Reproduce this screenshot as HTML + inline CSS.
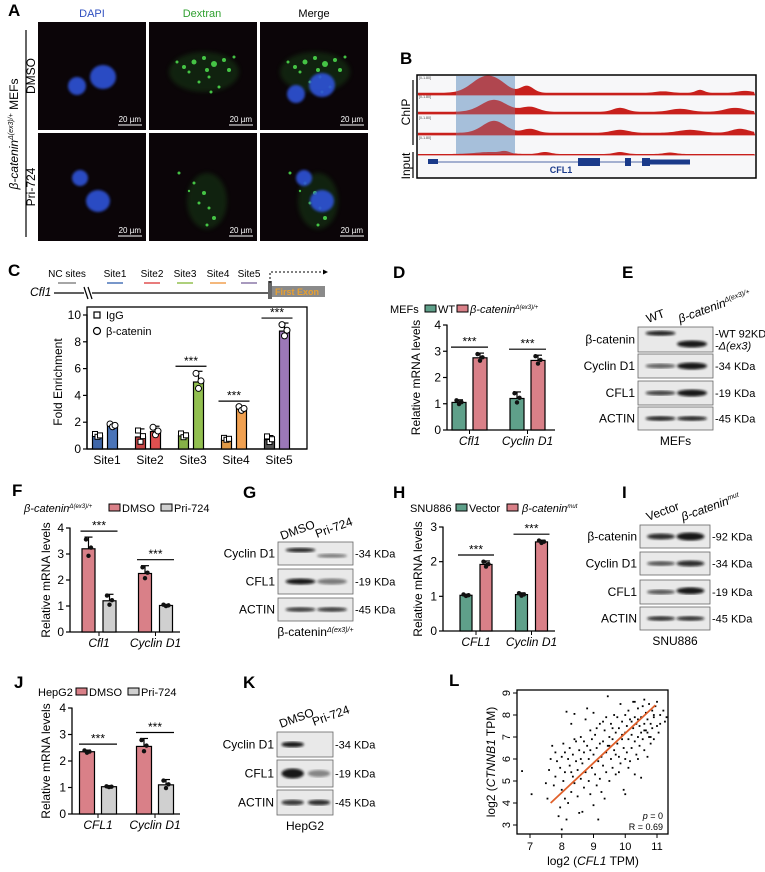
<!DOCTYPE html>
<html><head><meta charset="utf-8"><style>
html,body{margin:0;padding:0;background:#fff;}
svg{display:block;font-family:"Liberation Sans",Arial,sans-serif;}
</style></head><body>
<svg id="fig" width="765" height="872" viewBox="0 0 765 872" xmlns="http://www.w3.org/2000/svg">
<defs>
<filter id="blur1"><feGaussianBlur stdDeviation="1.2"/></filter>
<filter id="blur2"><feGaussianBlur stdDeviation="2.2"/></filter>
</defs>
<!-- Panel letters -->
<g font-weight="bold" font-size="17" fill="#000">
<text x="8" y="16">A</text><text x="400" y="64">B</text><text x="8" y="276">C</text>
<text x="393" y="278">D</text><text x="622" y="278">E</text><text x="12" y="496">F</text>
<text x="243" y="498">G</text><text x="393" y="498">H</text><text x="622" y="498">I</text>
<text x="14" y="688">J</text><text x="243" y="688">K</text><text x="449" y="686">L</text>
</g>

<!-- Panel A -->
<g id="panelA">
<text x="92" y="17" font-size="11" fill="#3050c0" text-anchor="middle">DAPI</text>
<text x="202" y="17" font-size="11" fill="#30a030" text-anchor="middle">Dextran</text>
<text x="314" y="17" font-size="11" fill="#000" text-anchor="middle">Merge</text>
<line x1="26" y1="30" x2="26" y2="237" stroke="#000" stroke-width="1.2"/>
<text transform="translate(18,134) rotate(-90)" font-size="12" text-anchor="middle"><tspan font-style="italic">β-catenin</tspan><tspan font-size="7" dy="-5" font-style="italic">Δ(ex3)/+</tspan><tspan dy="5"> MEFs</tspan></text>
<text transform="translate(35,76) rotate(-90)" font-size="12" text-anchor="middle">DMSO</text>
<text transform="translate(35,187) rotate(-90)" font-size="12" text-anchor="middle">Pri-724</text>
</g>

<!-- Panel B -->
<g id="panelB">
<rect x="417" y="75" width="339" height="103" fill="#f7f7f9" stroke="#000" stroke-width="1.5"/>
<rect x="456" y="76" width="59" height="78" fill="#b9cde3"/>
<line x1="413" y1="80" x2="413" y2="145" stroke="#000" stroke-width="1.2"/>
<line x1="413" y1="152" x2="413" y2="178" stroke="#000" stroke-width="1.2"/>
<text transform="translate(410,112) rotate(-90)" font-size="12" text-anchor="middle">ChIP</text>
<text transform="translate(410,166) rotate(-90)" font-size="12" text-anchor="middle">Input</text>
<text x="561" y="173" font-size="9" font-weight="bold" fill="#1a3a8a" text-anchor="middle">CFL1</text>
</g>

<!-- Panel C diagram -->
<g id="panelC-diagram">
<text x="30" y="296" font-size="12" font-style="italic">Cfl1</text>
<line x1="54" y1="293" x2="84" y2="293" stroke="#000" stroke-width="1.3"/>
<line x1="84" y1="287" x2="88" y2="299" stroke="#000" stroke-width="1.2"/>
<line x1="88" y1="287" x2="92" y2="299" stroke="#000" stroke-width="1.2"/>
<line x1="92" y1="293" x2="268" y2="293" stroke="#000" stroke-width="1.3"/>
<rect x="268" y="286" width="57" height="11" fill="#8a8a8a"/>
<rect x="268" y="281" width="4" height="18" fill="#666"/>
<text x="297" y="295" font-size="9" font-weight="bold" fill="#e8a030" text-anchor="middle">First Exon</text>
<polyline points="270,283 270,272 325,272" fill="none" stroke="#000" stroke-dasharray="2,2"/>
<polygon points="328,272 323,269.5 323,274.5" fill="#000"/>
<g font-size="10" text-anchor="middle">
<text x="67" y="277">NC sites</text><line x1="58" y1="283" x2="76" y2="283" stroke="#888" stroke-width="1.5"/>
<text x="115" y="277">Site1</text><line x1="107" y1="283" x2="123" y2="283" stroke="#4a74b8" stroke-width="1.5"/>
<text x="152" y="277">Site2</text><line x1="144" y1="283" x2="160" y2="283" stroke="#e05050" stroke-width="1.5"/>
<text x="185" y="277">Site3</text><line x1="177" y1="283" x2="193" y2="283" stroke="#92c050" stroke-width="1.5"/>
<text x="218" y="277">Site4</text><line x1="210" y1="283" x2="226" y2="283" stroke="#f0a050" stroke-width="1.5"/>
<text x="249" y="277">Site5</text><line x1="241" y1="283" x2="257" y2="283" stroke="#8a78a8" stroke-width="1.5"/>
</g>
</g>

<!-- Legends / titles -->
<g font-size="11">
<rect x="94" y="312" width="6" height="6" fill="none" stroke="#000" stroke-width="1.2"/><text x="106" y="319" font-size="11">IgG</text>
<circle cx="97" cy="331" r="3.5" fill="none" stroke="#000" stroke-width="1.2"/><text x="106" y="335" font-size="11">β-catenin</text>
<text x="390" y="313">MEFs</text>
<rect x="425" y="305" width="11" height="7" fill="#5fa08a" stroke="#000"/><text x="438" y="313">WT</text>
<rect x="457" y="305" width="11" height="7" fill="#d98088" stroke="#000"/><text x="470" y="313" font-style="italic">β-catenin<tspan font-size="6" dy="-4">Δ(ex3)/+</tspan></text>
<text x="24" y="512" font-style="italic">β-catenin<tspan font-size="6" dy="-4">Δ(ex3)/+</tspan></text>
<rect x="109" y="504" width="11" height="7" fill="#d98088" stroke="#000"/><text x="122" y="512">DMSO</text>
<rect x="161" y="504" width="11" height="7" fill="#d0d0d0" stroke="#000"/><text x="174" y="512">Pri-724</text>
<text x="410" y="512">SNU886</text>
<rect x="456" y="504" width="11" height="7" fill="#5fa08a" stroke="#000"/><text x="469" y="512">Vector</text>
<rect x="507" y="504" width="11" height="7" fill="#d98088" stroke="#000"/><text x="522" y="512" font-style="italic">β-catenin<tspan font-size="6" dy="-4">mut</tspan></text>
<text x="38" y="696">HepG2</text>
<rect x="76" y="688" width="11" height="7" fill="#d98088" stroke="#000"/><text x="89" y="696">DMSO</text>
<rect x="128" y="688" width="11" height="7" fill="#d0d0d0" stroke="#000"/><text x="141" y="696">Pri-724</text>
</g>

<g id="charts"></g>
<g id="blots"></g>
<g id="scatter"></g>
</svg>
<script>
// ---------- DATA ----------
const cSites = ['Site1','Site2','Site3','Site4','Site5'];
const cIgG = [1.0, 0.9, 1.0, 0.75, 0.7];
const cIgGErr = [0.15, 0.6, 0.2, 0.1, 0.3];
const cBcat = [1.75, 1.3, 5.0, 3.0, 8.8];
const cBcatErr = [0.15, 0.4, 0.8, 0.2, 0.6];
const cTicks = [0, 2, 4, 6, 8, 10];

const dCats = ['Cfl1', 'Cyclin D1'];
const dWT = [1.05, 1.2];
const dWTErr = [0.1, 0.25];
const dMut = [2.75, 2.65];
const dMutErr = [0.18, 0.2];

const fCats = ['Cfl1', 'Cyclin D1'];
const fDMSO = [3.2, 2.25];
const fDMSOErr = [0.45, 0.3];
const fPri = [1.2, 1.02];
const fPriErr = [0.25, 0.04];

const hCats = ['CFL1', 'Cyclin D1'];
const hVector = [1.03, 1.05];
const hVectorErr = [0.03, 0.05];
const hMut = [1.92, 2.57];
const hMutErr = [0.1, 0.05];

const jCats = ['CFL1', 'Cyclin D1'];
const jDMSO = [2.35, 2.55];
const jDMSOErr = [0.06, 0.3];
const jPri = [1.03, 1.1];
const jPriErr = [0.02, 0.2];

const lX = [6.75,7.05,7.5,7.55,7.6,7.65,7.7,7.75,7.8,7.8,7.85,7.9,7.95,7.95,8.0,8.0,8.0,8.05,8.05,8.1,8.1,8.15,8.15,8.2,8.2,8.25,8.25,8.3,8.3,8.35,8.35,8.4,8.4,8.45,8.45,8.5,8.5,8.55,8.55,8.6,8.6,8.65,8.65,8.7,8.7,8.75,8.75,8.8,8.8,8.85,8.85,8.9,8.9,8.95,8.95,9.0,9.0,9.0,9.05,9.05,9.1,9.1,9.15,9.15,9.2,9.2,9.25,9.25,9.3,9.3,9.35,9.35,9.4,9.4,9.45,9.45,9.5,9.5,9.55,9.55,9.6,9.6,9.65,9.65,9.7,9.7,9.75,9.75,9.8,9.8,9.85,9.85,9.9,9.9,9.95,9.95,10.0,10.0,10.0,10.05,10.05,10.1,10.1,10.15,10.15,10.2,10.2,10.25,10.25,10.3,10.3,10.3,10.35,10.35,10.4,10.4,10.45,10.45,10.5,10.5,10.5,10.55,10.55,10.6,10.6,10.65,10.65,10.7,10.7,10.75,10.75,10.8,10.8,10.85,10.85,10.9,10.9,10.95,11.0,11.0,11.05,11.1,11.1,11.2,11.25,11.3,10.0,9.6,9.2,8.9,9.4,10.3,10.6,10.1,9.8,8.6,8.3,8.1,9.1,9.7,10.4,10.7,10.9,9.9,10.2,10.6,10.4,10.8,9.5,9.3,8.7,8.4];
const lY = [5.45,4.4,4.9,4.2,5.5,6.0,6.6,4.8,5.2,6.3,5.9,3.4,3.8,5.6,2.8,4.6,6.1,5.0,6.7,4.2,5.4,8.15,3.25,6.0,4.0,5.7,6.5,7.6,4.5,5.2,6.2,8.05,4.9,5.9,6.8,4.3,5.5,6.4,3.55,7.0,5.1,5.8,3.6,6.3,4.7,7.8,5.4,6.6,8.3,5.0,6.0,7.3,4.4,5.6,6.9,3.9,6.2,8.1,5.3,7.1,4.8,6.5,5.9,3.25,7.6,5.1,6.1,4.5,6.8,5.7,7.3,4.2,6.3,5.4,8.85,6.6,7.0,5.0,6.0,7.6,5.6,6.9,8.0,6.4,7.2,5.3,6.7,7.9,6.1,7.4,8.5,5.8,6.9,7.7,6.5,4.6,7.2,8.0,4.4,6.3,7.5,6.9,8.2,5.9,7.8,7.1,6.5,8.6,7.4,6.8,7.9,5.3,7.6,6.2,8.3,7.0,7.5,6.6,7.9,5.15,7.2,8.4,6.9,7.6,6.4,8.1,7.3,7.8,6.1,8.5,7.0,7.6,6.7,8.2,7.4,7.9,6.9,8.4,7.5,8.6,7.2,8.0,7.6,8.2,7.7,7.9,6.0,7.4,6.7,6.4,7.9,8.6,8.7,5.6,5.4,6.0,5.4,6.3,7.4,6.2,6.0,7.2,8.0,7.1,7.7,7.3,7.8,7.0,6.6,7.7,6.8,6.9];
const lXTicks = [7, 8, 9, 10, 11];
const lYTicks = [3, 4, 5, 6, 7, 8, 9];
const lFit = [[7.65, 4.0], [10.95, 8.45]];

// ---------- HELPERS ----------
const NS = 'http://www.w3.org/2000/svg';
function el(tag, attrs, parent, text){
  const e = document.createElementNS(NS, tag);
  for (const k in attrs) e.setAttribute(k, attrs[k]);
  if (text !== undefined) e.textContent = text;
  parent.appendChild(e);
  return e;
}
const charts = document.getElementById('charts');

function barChart(o){
  const g = el('g', {}, charts);
  
  
  const yS = v => o.y0 - (v / o.max) * (o.y0 - o.yTop);
  const ya = el('line', {x1:o.x0, y1:o.y0, x2:o.x0, y2:yS(o.max)-0.5, stroke:'#000','stroke-width':1.3}, g);
  
  
  const xa = el('line', {x1:o.x0, y1:o.y0, x2:o.xEnd, y2:o.y0, stroke:'#000','stroke-width':1.3}, g);
  
  
  o.ticks.forEach(t=>{
    el('line', {x1:o.x0-4, y1:yS(t), x2:o.x0, y2:yS(t), stroke:'#000','stroke-width':1.2}, g);
    const tl = el('text', {x:o.x0-6, y:yS(t)+4, 'font-size':o.tickFont||12, 'text-anchor':'end'}, g, t);
    
    
  });
  const yt = el('text', {transform:`translate(${o.ylx},${(o.y0+yS(o.max))/2}) rotate(-90)`, 'font-size':12, 'text-anchor':'middle'}, g, o.ylabel);
  
  
  o.cats.forEach((c, i)=>{
    const gc = o.g0 + i * o.gs;
    const cl = el('text', {x:gc + (o.labDx||0), y:o.y0 + 15, 'font-size':12, 'text-anchor':'middle', 'font-style':o.italic?'italic':'normal'}, g, c);
    
    
    if (o.tickX) el('line', {x1:gc, y1:o.y0, x2:gc, y2:o.y0+4, stroke:'#000'}, g);
    o.series.forEach((s, si)=>{
      const cx = gc + (si === 0 ? -o.off : o.off);
      const v = s.vals[i], er = s.err[i];
      const col = s.colors ? s.colors[i] : s.color;
      const b = el('rect', {x:cx - o.bw/2, y:yS(v), width:o.bw, height:o.y0 - yS(v), fill:col, stroke:'#000','stroke-width':1.2}, g);
      
      
      el('line', {x1:cx, y1:yS(v+er), x2:cx, y2:yS(v), stroke:'#000','stroke-width':1.2}, g);
      el('line', {x1:cx-4, y1:yS(v+er), x2:cx+4, y2:yS(v+er), stroke:'#000','stroke-width':1.2}, g);
      [v+er*0.8, v-er*0.6, v+er*0.1].forEach((pv, k)=>{
        const px = cx + (k-1)*2.5;
        if (s.marker === 'square') el('rect', {x:px-2.5, y:yS(pv)-2.5, width:5, height:5, fill:'#fff', stroke:'#000','stroke-width':1}, g);
        else if (s.marker === 'open') el('circle', {cx:px, cy:yS(pv), r:3, fill:'#fff', stroke:'#000','stroke-width':1}, g);
        else el('circle', {cx:px, cy:yS(pv), r:2.2, fill:'#111'}, g);
      });
    });
    if (o.sig[i]){
      const top = Math.max(o.series[0].vals[i]+o.series[0].err[i], o.series[1].vals[i]+o.series[1].err[i]);
      const sy = yS(top) - o.sigGap;
      el('line', {x1:gc-o.off-8, y1:sy, x2:gc+o.off+8, y2:sy, stroke:'#000','stroke-width':1.2}, g);
      const st = el('text', {x:gc, y:sy-1.5, 'font-size':12, 'text-anchor':'middle'}, g, '***');
      
      
    }
  });
}

(function(){
  const g = el('rect', {x:87, y:307, width:220, height:142, fill:'none', stroke:'#000','stroke-width':1.3}, charts);
  
  
})();
const siteCols = ['#4a74b8','#e05050','#92c050','#f0a050','#9b78b8'];
const igCols = ['#3f66a8','#c84848','#86b048','#e09a48','#555'];
barChart({name:'chip-qpcr-chart', x0:87, xEnd:307, y0:449, yTop:315, max:10, ticks:cTicks, ylx:62, ylabel:'Fold Enrichment',
  cats:cSites, g0:105, gs:43, off:7.5, bw:10, labDx:2, tickX:false, italic:false, sigGap:5, tickFont:12,
  series:[{key:'igg', vals:cIgG, err:cIgGErr, colors:igCols, marker:'square'},{key:'bcatenin', vals:cBcat, err:cBcatErr, colors:siteCols, marker:'open'}],
  sig:[false,false,true,true,true]});

barChart({name:'mefs-mrna-chart', x0:447, xEnd:555, y0:430, yTop:325, max:4, ticks:[0,1,2,3,4], ylx:420, ylabel:'Relative mRNA levels',
  cats:dCats, g0:469.5, gs:58, off:10.5, bw:14, italic:true, tickX:true, sigGap:6,
  series:[{key:'wt', vals:dWT, err:dWTErr, color:'#5fa08a'},{key:'mut', vals:dMut, err:dMutErr, color:'#d98088'}],
  sig:[true,true]});

barChart({name:'pri724-mefs-mrna-chart', x0:70, xEnd:180, y0:632, yTop:528, max:4, ticks:[0,1,2,3,4], ylx:50, ylabel:'Relative mRNA levels',
  cats:fCats, g0:99, gs:56.5, off:10.5, bw:13, italic:true, tickX:true, sigGap:6,
  series:[{key:'dmso', vals:fDMSO, err:fDMSOErr, color:'#d98088'},{key:'pri724', vals:fPri, err:fPriErr, color:'#d0d0d0'}],
  sig:[true,true]});

barChart({name:'snu886-mrna-chart', x0:443, xEnd:555, y0:631, yTop:527, max:3, ticks:[0,1,2,3], ylx:422, ylabel:'Relative mRNA levels',
  cats:hCats, g0:476, gs:55.5, off:10, bw:12, italic:true, tickX:true, sigGap:6,
  series:[{key:'vector', vals:hVector, err:hVectorErr, color:'#5fa08a'},{key:'mut', vals:hMut, err:hMutErr, color:'#d98088'}],
  sig:[true,true]});

barChart({name:'hepg2-mrna-chart', x0:72, xEnd:180, y0:814, yTop:708, max:4, ticks:[0,1,2,3,4], ylx:50, ylabel:'Relative mRNA levels',
  cats:jCats, g0:98, gs:57, off:11, bw:15, italic:true, tickX:true, sigGap:6,
  series:[{key:'dmso', vals:jDMSO, err:jDMSOErr, color:'#d98088'},{key:'pri724', vals:jPri, err:jPriErr, color:'#d0d0d0'}],
  sig:[true,true]});

// ---------- Scatter L ----------
(function(){
  const sg = document.getElementById('scatter');
  
  
  const xS = v => 530 + (v - 7) * 31.75;
  const yS = v => 825 - (v - 3) * 22;
  const fr = el('rect', {x:517, y:690, width:151, height:144, fill:'none', stroke:'#000','stroke-width':1.3}, sg);
  
  
  lXTicks.forEach(t=>{
    el('line', {x1:xS(t), y1:834, x2:xS(t), y2:838, stroke:'#000'}, sg);
    const tl = el('text', {x:xS(t), y:850, 'font-size':11, 'text-anchor':'middle'}, sg, t);
    
    
  });
  lYTicks.forEach(t=>{
    el('line', {x1:513, y1:yS(t), x2:517, y2:yS(t), stroke:'#000'}, sg);
    const tl = el('text', {transform:`translate(510,${yS(t)}) rotate(-90)`, 'font-size':11, 'text-anchor':'middle'}, sg, t);
    
    
  });
  lX.forEach((x, i)=>{
    const p = el('rect', {x:xS(x)-0.9, y:yS(lY[i])-0.9, width:1.8, height:1.8, fill:'#000'}, sg);
    
    
  });
  const fl = el('line', {x1:xS(lFit[0][0]), y1:yS(lFit[0][1]), x2:xS(lFit[1][0]), y2:yS(lFit[1][1]), stroke:'#e0602a','stroke-width':1.8}, sg);
  
  
  const xt = el('text', {x:593, y:865, 'font-size':12, 'text-anchor':'middle'}, sg);
  xt.innerHTML = 'log2 (<tspan font-style="italic">CFL1</tspan> TPM)';
  
  
  const yt = el('text', {transform:'translate(495,762) rotate(-90)', 'font-size':12, 'text-anchor':'middle'}, sg);
  yt.innerHTML = 'log2 (<tspan font-style="italic">CTNNB1</tspan> TPM)';
  
  
  const pt = el('text', {x:663, y:819, 'font-size':9, 'text-anchor':'end'}, sg);
  pt.innerHTML = '<tspan font-style="italic">p</tspan> = 0';
  
  
  const rt = el('text', {x:663, y:830, 'font-size':9, 'text-anchor':'end'}, sg, 'R = 0.69');
  
  
})();

// ---------- Western blots ----------
const blots = document.getElementById('blots');
function blot(name, x, w, rows, cols, lanes, foot, footY){
  const g = el('g', {}, blots);
  
  
  rows.forEach(r=>{
    el('rect', {x:x, y:r.y, width:w, height:r.h, fill:'#e9e9e9', stroke:'#666','stroke-width':0.8}, g);
    const lt = el('text', {x:x-3, y:r.y+r.h/2+4, 'font-size':12, 'text-anchor':'end'}, g, r.label);
    
    
    r.kda.forEach((k, ki)=>{
      const kt = el('text', {x:x+w+2, y:r.y+r.h/2+4+(r.kda.length>1?(ki?6:-6):0), 'font-size':11, 'font-style':(k.indexOf('Δ')>=0?'italic':'normal')}, g, k);
      
      
    });
    r.bands.forEach((b, i)=>{
      if (b[0] <= 0) return;
      const cx = x + lanes[i] * w;
      el('ellipse', {cx:cx, cy:r.y + r.h*b[1], rx:w*0.2, ry:b[2], fill:'#111', opacity:b[0], filter:'url(#blur1)'}, g);
    });
  });
  const ft = el('text', {x:x+w/2, y:footY, 'font-size':12, 'text-anchor':'middle'}, g);
  ft.innerHTML = foot;
  
  
  cols.forEach(c=>{
    const ct = el('text', {transform:`translate(${c.x},${c.y}) rotate(${c.r})`, 'font-size':12}, g);
    ct.innerHTML = c.t;
    
    
  });
}
blot('mefs-western-blot', 638, 75, [
  {y:327,h:25,label:'β-catenin',kda:['-WT 92KD','-Δ(ex3)'],bands:[[0.9,0.25,2.5],[0.95,0.68,3.5]]},
  {y:354,h:24,label:'Cyclin D1',kda:['-34 KDa'],bands:[[0.6,0.5,2.5],[0.95,0.5,3.5]]},
  {y:381,h:24,label:'CFL1',kda:['-19 KDa'],bands:[[0.75,0.5,2.5],[0.95,0.5,3.5]]},
  {y:407,h:23,label:'ACTIN',kda:['-45 KDa'],bands:[[0.85,0.5,2.5],[0.85,0.5,2.5]]}],
  [{x:648,y:323,r:-20,t:'WT'},{x:680,y:323,r:-20,t:'<tspan font-style="italic">β-catenin</tspan><tspan font-size="7" dy="-4" font-style="italic">Δ(ex3)/+</tspan>'}],
  [0.3,0.72], 'MEFs', 445);
blot('pri724-mefs-western-blot', 278, 75, [
  {y:542,h:23,label:'Cyclin D1',kda:['-34 KDa'],bands:[[0.9,0.35,2.2],[0.5,0.6,2]]},
  {y:569,h:25,label:'CFL1',kda:['-19 KDa'],bands:[[0.95,0.5,3],[0.5,0.5,3]]},
  {y:598,h:23,label:'ACTIN',kda:['-45 KDa'],bands:[[0.75,0.5,2.5],[0.75,0.5,2.5]]}],
  [{x:282,y:540,r:-20,t:'DMSO'},{x:317,y:538,r:-20,t:'Pri-724'}],
  [0.3,0.72], 'β-catenin<tspan font-size="7" dy="-4" font-style="italic">Δ(ex3)/+</tspan>', 636);
blot('snu886-western-blot', 640, 70, [
  {y:525,h:23,label:'β-catenin',kda:['-92 KDa'],bands:[[0.85,0.5,3],[0.95,0.5,4]]},
  {y:552,h:23,label:'Cyclin D1',kda:['-34 KDa'],bands:[[0.65,0.5,2.5],[0.85,0.5,3]]},
  {y:580,h:24,label:'CFL1',kda:['-19 KDa'],bands:[[0.65,0.5,2.5],[0.95,0.45,3.5]]},
  {y:607,h:23,label:'ACTIN',kda:['-45 KDa'],bands:[[0.8,0.5,2.5],[0.8,0.5,2.5]]}],
  [{x:648,y:521,r:-20,t:'Vector'},{x:683,y:521,r:-20,t:'<tspan font-style="italic">β-catenin</tspan><tspan font-size="7" dy="-4" font-style="italic">mut</tspan>'}],
  [0.3,0.72], 'SNU886', 645);
blot('hepg2-western-blot', 277, 56, [
  {y:732,h:25,label:'Cyclin D1',kda:['-34 KDa'],bands:[[0.95,0.5,2.8],[0,0.5,2]]},
  {y:760,h:27,label:'CFL1',kda:['-19 KDa'],bands:[[0.95,0.5,5],[0.45,0.5,3.5]]},
  {y:790,h:25,label:'ACTIN',kda:['-45 KDa'],bands:[[0.8,0.5,2.8],[0.85,0.5,2.8]]}],
  [{x:281,y:728,r:-20,t:'DMSO'},{x:314,y:726,r:-20,t:'Pri-724'}],
  [0.28,0.75], 'HepG2', 830);

// ---------- Microscopy images (panel A) ----------
(function(){
  const pa = document.getElementById('panelA');
  const colsX = [38, 149, 260], rowsY = [22, 133], W = 108, H = 108;
  const names = ['dapi','dextran','merge'], rn = ['dmso','pri724'];
  const nuclei = [[[77-38,86-22,9,9],[103-38,77-22,13,12]],[[80-38,178-133,8,8],[98-38,201-133,12,11]]];
  const greens = [[[45,40,2.5],[55,36,2],[65,42,3],[35,45,2],[75,38,2],[60,55,1.5],[50,60,1.5],[70,65,1.5],[40,50,1.5],[80,48,2],[28,40,1.5],[58,48,2],[85,35,1.5],[62,70,1.5]],
                  [[30,40,1.5],[45,50,1.5],[55,60,2],[60,75,1.5],[65,85,2],[50,70,1.5],[40,58,1.2],[58,92,1.5]]];
  rowsY.forEach((ry, ri)=>{
    colsX.forEach((cx, ci)=>{
      const g = el('g', {transform:`translate(${cx},${ry})`}, pa);
      
      
      el('rect', {x:0, y:0, width:W, height:H, fill:'#0b0508'}, g);
      if (ci !== 0){
        const cloudCx = ri ? 58 : 55, cloudCy = ri ? 68 : 50;
        el('ellipse', {cx:cloudCx, cy:cloudCy, rx:ri?20:35, ry:ri?28:20, fill:'#1c5a1c', opacity:0.35, filter:'url(#blur2)'}, g);
        greens[ri].forEach(d=>el('circle', {cx:d[0], cy:d[1], r:d[2], fill:'#4fe04f', opacity:0.85}, g));
      }
      if (ci !== 1){
        nuclei[ri].forEach(n=>el('ellipse', {cx:n[0]+(ci===2?(ri?2:-3):0), cy:n[1]+(ci===2?(ri?0:8):0), rx:n[2], ry:n[3], fill:'#2d52d8', opacity:0.9, filter:'url(#blur1)'}, g));
      }
      el('text', {x:W-5, y:H-8, 'font-size':8, fill:'#fff', 'text-anchor':'end'}, g, '20 µm');
      el('line', {x1:W-28, y1:H-5, x2:W-4, y2:H-5, stroke:'#fff','stroke-width':1}, g);
    });
  });
})();

// ---------- ChIP tracks (panel B) ----------
(function(){
  const pb = document.getElementById('panelB');
  const bases = [95, 114, 135, 155];
  const peaks = [
    [[484,15,18],[500,6,14],[527,7,9],[663,1.5,10],[700,3,6],[745,2,10]],
    [[494,12,18],[530,5,12],[620,4,10],[680,3,14],[735,4,14]],
    [[494,12,16],[530,4,10],[620,3,12],[690,3,16],[740,4,12]],
    [[490,2,20],[505,2,6],[545,2,8],[620,2,8],[670,1.5,8]]];
  bases.forEach((b, i)=>{
    const g = el('g', {}, pb);
    
    
    let d = `M418,${b}`;
    for (let x = 418; x <= 755; x += 2){
      let h = i === 3 ? 1 : 2.2;
      peaks[i].forEach(p=>{ h += p[1] * Math.exp(-Math.pow((x-p[0])/p[2],2)); });
      d += ` L${x},${b-h}`;
    }
    d += ` L755,${b} Z`;
    el('path', {d:d, fill:'#c8201c'}, g);
    el('line', {x1:418, y1:b, x2:755, y2:b, stroke:'#c8201c', 'stroke-width':0.8}, g);
    el('text', {x:419, y:b-16, 'font-size':3.5, fill:'#444'}, g, '[0-1.80]');
  });
  const ov = el('rect', {x:456, y:76, width:59, height:78, fill:'#7aa0c8', opacity:0.3}, pb);
  
  
  const gg = el('g', {}, pb);
  
  
  el('line', {x1:430, y1:162, x2:690, y2:162, stroke:'#1a3a8a','stroke-width':0.8}, gg);
  el('rect', {x:428, y:159, width:10, height:5, fill:'#1a3a8a'}, gg);
  el('rect', {x:578, y:158, width:22, height:8, fill:'#1a3a8a'}, gg);
  el('rect', {x:625, y:158, width:6, height:8, fill:'#1a3a8a'}, gg);
  el('rect', {x:642, y:158, width:8, height:8, fill:'#1a3a8a'}, gg);
  el('rect', {x:650, y:159.5, width:40, height:5, fill:'#1a3a8a'}, gg);
})();
</script>
</body></html>
